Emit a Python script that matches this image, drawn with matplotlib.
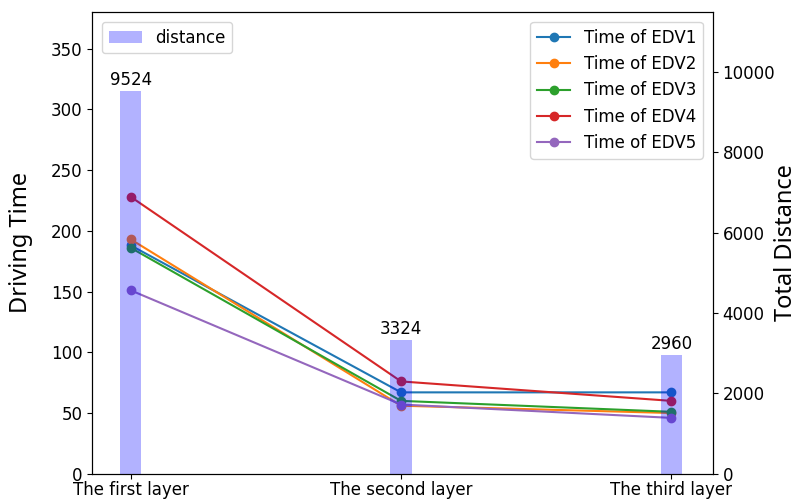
import matplotlib
matplotlib.use("Agg")
import matplotlib.pyplot as plt
import numpy as np

layers = ["The first layer", "The second layer", "The third layer"]
distance = [9524, 3324, 2960]
edv1 = [188, 67, 67]
edv2 = [193, 56, 50]
edv3 = [186, 60, 51]
edv4 = [228, 76, 60]
edv5 = [151, 57, 46]
series = [("Time of EDV1", edv1), ("Time of EDV2", edv2), ("Time of EDV3", edv3),
          ("Time of EDV4", edv4), ("Time of EDV5", edv5)]

label_font = {"family": "Noto Sans", "size": 17}

fig = plt.figure(figsize=(8, 5.04), dpi=100)
ax1 = fig.add_axes([0.115, 0.06, 0.776, 0.916])
x = np.arange(len(layers))

for name, vals in series:
    ax1.plot(x, vals, marker="o", label=name)
ax1.set_ylim(0, 380)
ax1.set_yticks(np.arange(0, 351, 50))
ax1.set_ylabel("Driving Time", fontdict=label_font)
ax1.yaxis.set_label_coords(-0.095, 0.5)
ax1.set_xticks(x)
ax1.set_xticklabels(layers, fontsize=12)
ax1.tick_params(axis="y", labelsize=12)
ax1.tick_params(axis="x", pad=2)
ax1.set_xlim(-0.143, 2.153)
ax1.legend(loc="upper right", fontsize=12, borderaxespad=0.6)

ax2 = ax1.twinx()
bars = ax2.bar(x, distance, width=0.08, color="blue", alpha=0.3, label="distance")
for xi, d in zip(x, distance):
    ax2.text(xi, d + 50, str(d), ha="center", va="bottom", fontsize=12)
ax2.set_ylim(0, 11490)
ax2.set_yticks(np.arange(0, 10001, 2000))
ax2.tick_params(axis="y", labelsize=12)
ax2.set_ylabel("Total Distance", fontdict=label_font)
ax2.yaxis.set_label_coords(1.099, 0.5)
ax2.legend(loc="upper left", fontsize=12, borderaxespad=0.6)

fig.savefig("out.png", dpi=100)
